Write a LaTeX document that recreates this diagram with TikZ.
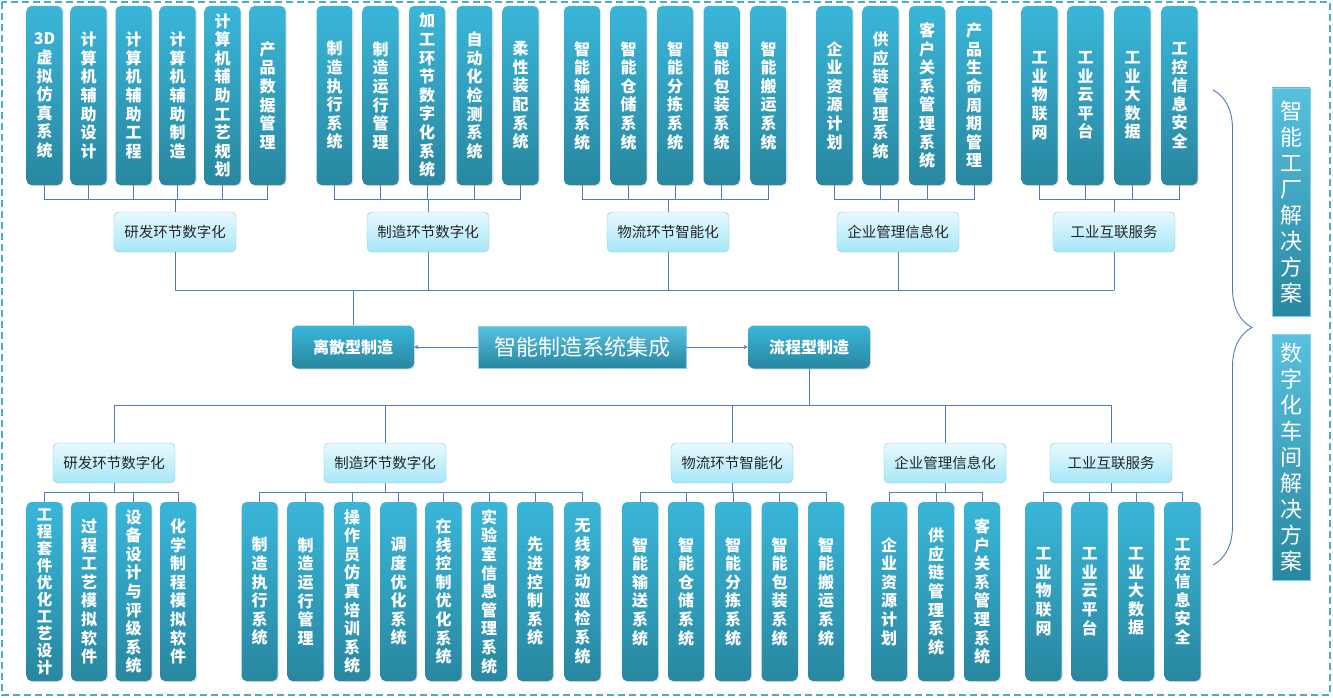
\documentclass[tikz,border=0pt]{standalone}
\usepackage{fontspec}
\setmainfont{Noto Sans CJK SC}
\usetikzlibrary{shadows,decorations.pathreplacing}
\XeTeXlinebreaklocale "zh"
\XeTeXlinebreakskip=0pt plus 1pt

\definecolor{leaftop}{RGB}{58,182,217}
\definecolor{leafbot}{RGB}{40,135,160}
\definecolor{labtop}{RGB}{232,249,254}
\definecolor{labbot}{RGB}{166,231,248}
\definecolor{labline}{RGB}{130,200,222}
\definecolor{wire}{RGB}{74,126,187}
\definecolor{frame}{RGB}{75,172,198}

\tikzset{
  teal/.style={top color=leaftop, bottom color=leafbot, text=white, inner sep=0pt},
  leaf/.style={teal, rounded corners=5pt, minimum width=36pt, minimum height=179pt,
    text width=22pt, align=center, font=\bfseries\fontsize{16}{18.6}\selectfont,
    drop shadow={shadow xshift=1pt, shadow yshift=-1pt, opacity=0.25}},
  lab/.style={rounded corners=5pt, top color=labtop, bottom color=labbot, draw=labline,
    minimum width=122pt, minimum height=40pt, inner sep=0pt, text=black!85,
    font=\fontsize{14.5}{16}\selectfont},
  kind/.style={teal, rounded corners=6pt, minimum width=122pt, minimum height=43pt,
    font=\bfseries\fontsize{16}{18}\selectfont,
    drop shadow={shadow xshift=1pt, shadow yshift=-1pt, opacity=0.25}},
  core/.style={teal, top color=leaftop!85!white, draw=leaftop!60!white, minimum width=208pt,
    minimum height=42pt, font=\fontsize{22}{24}\selectfont},
  side/.style={teal, top color=leaftop!85!white, draw=leaftop!60!white, minimum width=38pt,
    text width=26pt, align=center, font=\fontsize{22}{26}\selectfont}
}

\begin{document}
\begin{tikzpicture}[x=1pt, y=-1pt, conn/.style={draw=wire, line width=0.9pt}]
\useasboundingbox (0,0) rectangle (1333,698);
\draw[frame, line width=2pt, dash pattern=on 7pt off 4pt] (2,2) rectangle (1330,695);

% bus levels
\coordinate (ttop) at (0,199);
\coordinate (tbot) at (0,290);
\coordinate (ltop) at (0,405);
\coordinate (lbot) at (0,492);

% top half
\node[lab] (tl1) at (175,232) {研发环节数字化};
\node[lab] (tl2) at (428,232) {制造环节数字化};
\node[lab] (tl3) at (668,232) {物流环节智能化};
\node[lab] (tl4) at (898,232) {企业管理信息化};
\node[lab] (tl5) at (1114,232) {工业互联服务};

\foreach \x/\t [count=\i] in {44.5/3D虚拟仿真系统, 88.5/计算机辅助设计, 133.5/计算机辅助工程,
    177.5/计算机辅助制造, 222.5/计算机辅助工艺规划, 267.5/产品数据管理} {
  \node[leaf] (t1-\i) at (\x,95.5) {\t};
  \draw[conn] (t1-\i.south) -- (t1-\i.south |- ttop) -| (tl1.north);
}
\foreach \x/\t [count=\i] in {334.5/制造执行系统, 380.5/制造运行管理, 427/加工环节数字化系统,
    474.5/自动化检测系统, 520.5/柔性装配系统} {
  \node[leaf] (t2-\i) at (\x,95.5) {\t};
  \draw[conn] (t2-\i.south) -- (t2-\i.south |- ttop) -| (tl2.north);
}
\foreach \x/\t [count=\i] in {582/智能输送系统, 628.5/智能仓储系统, 675/智能分拣系统,
    721.5/智能包装系统, 768.5/智能搬运系统} {
  \node[leaf] (t3-\i) at (\x,95.5) {\t};
  \draw[conn] (t3-\i.south) -- (t3-\i.south |- ttop) -| (tl3.north);
}
\foreach \x/\t [count=\i] in {834.5/企业资源计划, 880.5/供应链管理系统, 927/客户关系管理系统,
    974/产品生命周期管理} {
  \node[leaf] (t4-\i) at (\x,95.5) {\t};
  \draw[conn] (t4-\i.south) -- (t4-\i.south |- ttop) -| (tl4.north);
}
\foreach \x/\t [count=\i] in {1039.5/工业物联网, 1085.5/工业云平台, 1132.5/工业大数据,
    1179.5/工控信息安全} {
  \node[leaf] (t5-\i) at (\x,95.5) {\t};
  \draw[conn] (t5-\i.south) -- (t5-\i.south |- ttop) -| (tl5.north);
}

% middle
\node[kind] (dis) at (353,347) {离散型制造};
\node[core] (sys) at (582,347) {智能制造系统集成};
\node[kind] (flow) at (809,347) {流程型制造};
\draw[conn, ->, >=stealth] (sys.west) -- (dis.east);
\draw[conn, ->, >=stealth] (sys.east) -- (flow.west);
\foreach \n in {1,...,5}
  \draw[conn] (tl\n.south) -- (tl\n.south |- tbot);
\draw[conn] (tl1.south |- tbot) -- (tl5.south |- tbot);
\draw[conn] (dis.north) -- (dis.north |- tbot);

% bottom half
\node[lab] (bl1) at (114,463) {研发环节数字化};
\node[lab] (bl2) at (385,463) {制造环节数字化};
\node[lab] (bl3) at (732,463) {物流环节智能化};
\node[lab] (bl4) at (945,463) {企业管理信息化};
\node[lab] (bl5) at (1111,463) {工业互联服务};
\draw[conn] (flow.south) -- (flow.south |- ltop);
\draw[conn] (bl1.north |- ltop) -- (bl5.north |- ltop);
\foreach \n in {1,...,5}
  \draw[conn] (bl\n.north) -- (bl\n.north |- ltop);

\node[leaf, font=\bfseries\fontsize{15.5}{17}\selectfont] (b1-1) at (44.5,591.5) {工程套件优化工艺设计};
\draw[conn] (bl1.south) -- (bl1.south |- lbot) -| (b1-1.north);
\foreach \x/\t [count=\i from 2] in {89/过程工艺模拟软件, 133.5/设备设计与评级系统,
    178/化学制程模拟软件} {
  \node[leaf] (b1-\i) at (\x,591.5) {\t};
  \draw[conn] (bl1.south) -- (bl1.south |- lbot) -| (b1-\i.north);
}
\foreach \x/\t [count=\i] in {259.5/制造执行系统, 305.5/制造运行管理, 352/操作员仿真培训系统,
    398.5/调度优化系统, 443.5/在线控制优化系统, 489/实验室信息管理系统, 535/先进控制系统,
    582.5/无线移动巡检系统} {
  \node[leaf] (b2-\i) at (\x,591.5) {\t};
  \draw[conn] (bl2.south) -- (bl2.south |- lbot) -| (b2-\i.north);
}
\foreach \x/\t [count=\i] in {640/智能输送系统, 686/智能仓储系统, 733/智能分拣系统,
    779.5/智能包装系统, 826/智能搬运系统} {
  \node[leaf] (b3-\i) at (\x,591.5) {\t};
  \draw[conn] (bl3.south) -- (bl3.south |- lbot) -| (b3-\i.north);
}
\foreach \x/\t [count=\i] in {889/企业资源计划, 936/供应链管理系统, 982/客户关系管理系统} {
  \node[leaf] (b4-\i) at (\x,591.5) {\t};
  \draw[conn] (bl4.south) -- (bl4.south |- lbot) -| (b4-\i.north);
}
\foreach \x/\t [count=\i] in {1043.5/工业物联网, 1089.5/工业云平台, 1136/工业大数据,
    1182.5/工控信息安全} {
  \node[leaf] (b5-\i) at (\x,591.5) {\t};
  \draw[conn] (bl5.south) -- (bl5.south |- lbot) -| (b5-\i.north);
}

% right side
\coordinate (bt) at (1213,90);
\coordinate (bb) at (1213,565);
\draw[conn, decorate, decoration={brace, amplitude=39pt}] (bt) -- (bb);
\node[side, minimum height=228pt] (fac) at (1291,202) {智能工厂解决方案};
\node[side, minimum height=246pt] (shop) at (1291,457) {数字化车间解决方案};
\end{tikzpicture}
\end{document}
